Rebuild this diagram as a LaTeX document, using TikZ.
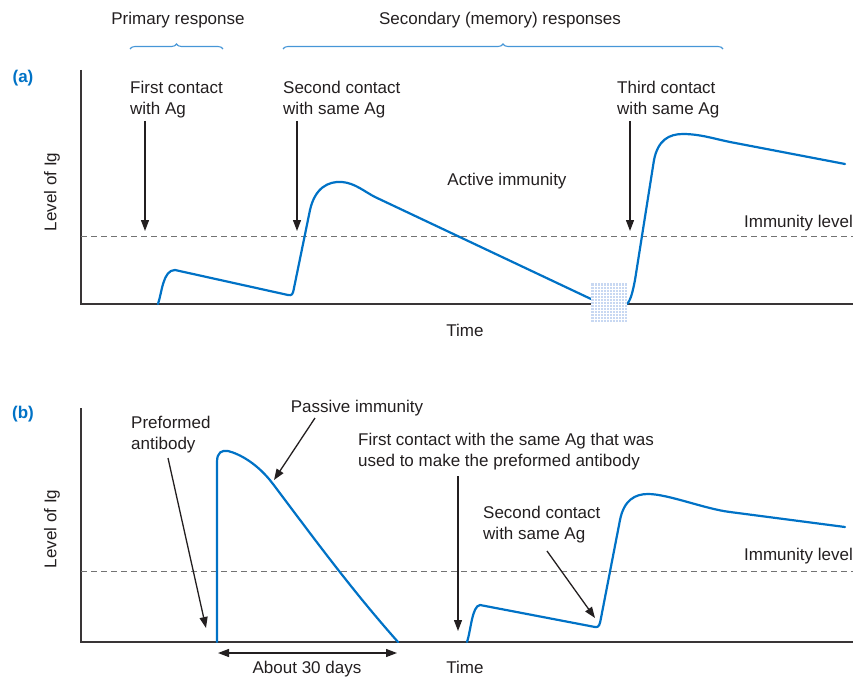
\documentclass[tikz,border=0pt]{standalone}
\usepackage{fontspec}
\setmainfont{Liberation Sans}
\usetikzlibrary{arrows.meta,decorations.pathreplacing}
\definecolor{ink}{RGB}{35,31,32}
\definecolor{curveblue}{RGB}{0,114,198}
\definecolor{braceblue}{RGB}{70,150,215}
\definecolor{dashgray}{RGB}{115,115,115}
\definecolor{patchblue}{RGB}{200,216,242}
\begin{document}
\begin{tikzpicture}[x=1pt,y=-1pt,
  every node/.style={inner sep=0pt,text=ink,font=\fontsize{17}{21.5}\selectfont},
  lbl/.style={align=left,anchor=north west},
  axisline/.style={draw=ink!90,line width=1.5pt},
  levelline/.style={draw=dashgray,line width=1pt,dash pattern=on 6pt off 4pt},
  igcurve/.style={draw=curveblue,line width=2.2pt,line join=round,line cap=round},
  pointer/.style={draw=ink,line width=1.3pt,-{Triangle[length=11pt,width=8pt]}},
  span/.style={draw=ink,line width=1.3pt,{Triangle[length=11pt,width=8pt]}-{Triangle[length=11pt,width=8pt]}},
  bracket/.style={draw=braceblue,line width=1.1pt,decorate,decoration={brace,amplitude=5pt}},
  panel/.style={text=curveblue,font=\fontsize{17}{20}\selectfont\bfseries},
  ylab/.style={rotate=90}]
\useasboundingbox (0,0) rectangle (855,677);

% ---------- panel (a): active immunity ----------
\node[panel] (pa) at (23,78) {(a)};
\node[anchor=base] (prim) at (178,25) {Primary response};
\node[anchor=base] (sec) at (500,25) {Secondary (memory) responses};
\coordinate (pbl) at (130,49); \coordinate (pbr) at (223,49);
\coordinate (sbl) at (283,49); \coordinate (sbr) at (723,49);
\draw[bracket] (pbl) -- (pbr);
\draw[bracket] (sbl) -- (sbr);

\coordinate (aO) at (81,304);
\coordinate (aTop) at (81,70);
\coordinate (aEnd) at (853,304);
\draw[axisline] (aTop) -- (aO) -- (aEnd);
\coordinate (aDL) at (81,236); \coordinate (aDR) at (853,236);
\draw[levelline] (aDL) -- (aDR);
\node[ylab] (ayl) at (52,192) {Level of Ig};
\node[anchor=base] (atime) at (465,336) {Time};
\node[anchor=base east] (aimm) at (853,227) {Immunity level};
\node[anchor=base] (act) at (507,185) {Active immunity};

\node[lbl] (c1) at (130,80.5) {First contact\\with Ag};
\node[lbl] (c2) at (283,80.5) {Second contact\\with same Ag};
\node[lbl] (c3) at (617,80.5) {Third contact\\with same Ag};
\coordinate (c1s) at (145,121); \coordinate (c1e) at (145,231);
\coordinate (c2s) at (297,121); \coordinate (c2e) at (297,231);
\coordinate (c3s) at (630,121); \coordinate (c3e) at (630,231);
\draw[pointer] (c1s) -- (c1e);
\draw[pointer] (c2s) -- (c2e);
\draw[pointer] (c3s) -- (c3e);

% Ig level, primary and first secondary responses
\draw[igcurve] (158,304) .. controls (162,292) and (163,270) .. (175,270)
  -- (288,295) .. controls (292,296) and (293,294) .. (294,288)
  -- (310,210) .. controls (315,188) and (328,181) .. (342,182)
  .. controls (355,183) and (365,192) .. (375,197) -- (591,299);
% third contact response
\draw[igcurve] (627,304) .. controls (631,300) and (633,290) .. (635,280)
  -- (654,160) .. controls (658,140) and (669,134) .. (683,134)
  .. controls (700,134) and (715,139) .. (730,142) -- (845,164);
% time gap marker
\fill[patchblue] (591,283) rectangle (627,322);
\foreach \i in {1,...,11} \draw[white,line width=0.6pt] (591+3*\i,283) -- (591+3*\i,322);
\foreach \j in {1,...,12} \draw[white,line width=0.6pt] (591,283+3*\j) -- (627,283+3*\j);

% ---------- panel (b): passive immunity ----------
\node[panel] (pb) at (23,414) {(b)};
\coordinate (bO) at (81,642);
\coordinate (bTop) at (81,408);
\coordinate (bEnd) at (853,642);
\draw[axisline] (bTop) -- (bO) -- (bEnd);
\coordinate (bDL) at (81,571); \coordinate (bDR) at (853,571);
\draw[levelline] (bDL) -- (bDR);
\node[ylab] (byl) at (52,529) {Level of Ig};
\node[anchor=base] (btime) at (465,673) {Time};
\node[anchor=base east] (bimm) at (853,560) {Immunity level};

\node[lbl] (pre) at (131,415.5) {Preformed\\antibody};
\node[anchor=base] (pas) at (357,412) {Passive immunity};
\node[lbl] (fc) at (358,432.5) {First contact with the same Ag that was\\used to make the preformed antibody};
\node[lbl] (sc) at (483,505.5) {Second contact\\with same Ag};
\node[anchor=base] (days) at (307,673) {About 30 days};

\coordinate (pres) at (168,458); \coordinate (pree) at (206,628);
\coordinate (pass) at (315,418); \coordinate (pase) at (274,480);
\coordinate (fcs) at (458,476); \coordinate (fce) at (458,631);
\coordinate (scs) at (547,551); \coordinate (sce) at (595,618);
\coordinate (dl) at (218,653); \coordinate (dr) at (397,653);
\draw[pointer] (pres) -- (pree);
\draw[pointer] (pass) -- (pase);
\draw[pointer] (fcs) -- (fce);
\draw[pointer] (scs) -- (sce);
\draw[span] (dl) -- (dr);

% injected antibody decaying
\draw[igcurve] (217,642) -- (217,462) .. controls (217,452) and (222,450) .. (228,451)
  .. controls (240,454) and (258,464) .. (273,484)
  .. controls (310,533) and (350,588) .. (398,642);
% own primary and secondary responses
\draw[igcurve] (467,642) .. controls (471,630) and (472,606) .. (480,605)
  -- (595,627) .. controls (599,628) and (600,624) .. (601,618)
  -- (620,520) .. controls (624,500) and (635,494) .. (648,494)
  .. controls (668,494) and (705,509) .. (730,512) -- (845,527);
\end{tikzpicture}
\end{document}
